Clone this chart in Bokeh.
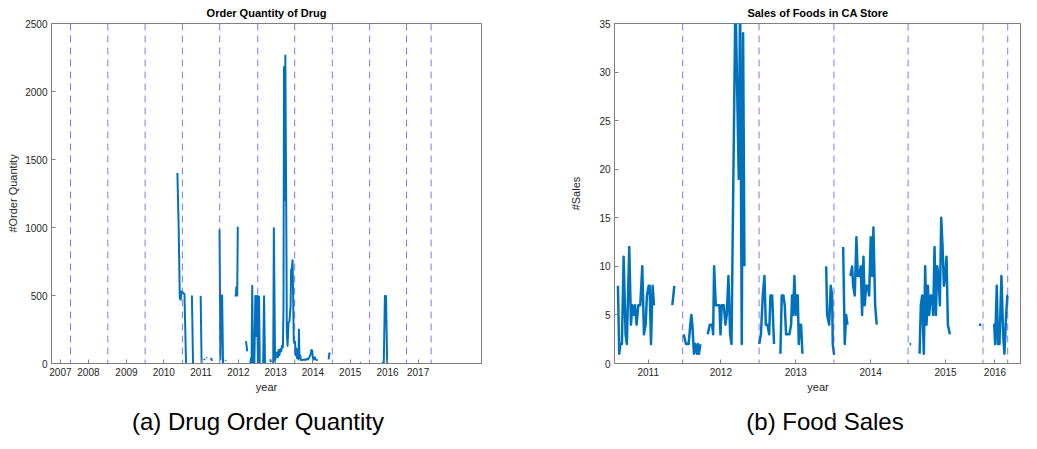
from bokeh.plotting import figure
from bokeh.models import Range1d, FixedTicker, Span, Div, Spacer
from bokeh.layouts import row, column
from bokeh.embed import file_html
from bokeh.resources import INLINE

NaN = float("nan")

# ---------------- Drug order quantity (left) ----------------
drug_year = [
    2010.366, 2010.40, 2010.43, 2010.455, 2010.47, 2010.52, 2010.555, 2010.598, NaN,
    2010.755, 2010.785, NaN,
    2010.965, 2010.99, 2011.015, NaN,
    2011.08, 2011.10, NaN,
    2011.14, 2011.16, NaN,
    2011.26, 2011.30, NaN,
    2011.495, 2011.52, 2011.545, 2011.565, 2011.59, NaN,
    2011.655, 2011.665, NaN,
    2011.90, 2011.935, 2011.945, 2011.955, 2011.97, 2011.985, NaN,
    2012.205, 2012.24, NaN,
    2012.32, 2012.34, 2012.355, 2012.372, 2012.395, 2012.405, 2012.415, 2012.43,
    2012.455, 2012.47, 2012.485, 2012.505, 2012.525, 2012.54, 2012.555, 2012.575, NaN,
    2012.665, 2012.69, 2012.715, NaN,
    2012.85, 2012.88, NaN,
    2012.935, 2012.952, 2012.985, 2013.01, 2013.036, 2013.06, 2013.08, 2013.10, 2013.125,
    2013.15, 2013.17, 2013.195, 2013.21, 2013.225, 2013.24, 2013.26, 2013.285, 2013.30,
    2013.32, 2013.345, 2013.37, 2013.40, 2013.415, 2013.435, 2013.455, 2013.47, 2013.485,
    2013.50, 2013.52, 2013.535, 2013.555, 2013.575, 2013.595, 2013.61, 2013.625, 2013.64,
    2013.66, 2013.68, 2013.72, 2013.76, 2013.80, 2013.84, 2013.87, 2013.90, 2013.93,
    2013.96, 2013.98, 2014.00, 2014.02, 2014.05, 2014.08, NaN,
    2014.10, 2014.115, NaN,
    2014.42, 2014.44, 2014.455, NaN,
    2015.26, 2015.275, NaN,
    2015.85, 2015.90, 2015.93, 2015.96, 2015.99, 2016.02,
]
drug_qty = [
    1400, 1000, 480, 470, 530, 520, 510, 0, NaN,
    500, 0, NaN,
    490, 490, 0, NaN,
    25, 35, NaN,
    40, 45, NaN,
    40, 20, NaN,
    985, 30, 500, 500, 0, NaN,
    25, 20, NaN,
    500, 500, 560, 500, 500, 1005, NaN,
    165, 90, NaN,
    0, 40, 10, 572, 0, 60, 150, 0,
    497, 200, 497, 495, 0, 495, 490, 0, NaN,
    0, 495, 0, NaN,
    30, 10, NaN,
    0, 995, 20, 60, 80, 45, 100, 60, 105,
    90, 130, 120, 400, 2180, 1200, 2265, 1100, 230,
    130, 300, 310, 420, 690, 700, 760, 480, 180,
    150, 160, 60, 110, 40, 100, 30, 250, 40,
    60, 25, 25, 30, 25, 35, 30, 45, 60,
    100, 95, 40, 30, 45, 25, NaN,
    30, 20, NaN,
    30, 75, 65, NaN,
    8, 5, NaN,
    5, 5, 497, 497, 5, 0,
]
drug_dividers = [2007.5, 2008.5, 2009.5, 2010.5, 2011.5, 2012.52, 2013.51,
                 2014.52, 2015.52, 2016.51, 2017.17]
drug_tick_pos = [2007.23, 2007.98, 2009.0, 2010.0, 2011.0, 2012.0, 2013.0,
                 2014.0, 2015.0, 2016.0, 2016.82]
drug_tick_labels = ["2007", "2008", "2009", "2010", "2011", "2012", "2013",
                    "2014", "2015", "2016", "2017"]
drug_yticks = [0, 500, 1000, 1500, 2000, 2500]

# ---------------- Food sales (right) ----------------
food_year = [
    2010.626, 2010.643, 2010.657, 2010.679, 2010.702, 2010.728, 2010.745, 2010.777,
    2010.800, 2010.817, 2010.835, 2010.853, 2010.875, 2010.898, 2010.924, 2010.951,
    2010.973, 2010.996, 2011.013, 2011.036, 2011.049, 2011.067, 2011.089, 2011.107, NaN,
    2011.352, 2011.379, NaN,
    2011.503, 2011.535, 2011.570, 2011.592, 2011.606, 2011.619, 2011.641, 2011.659,
    2011.682, 2011.695, 2011.708, 2011.726, NaN,
    2011.825, 2011.852, 2011.884, 2011.897, 2011.910, 2011.932, 2011.959, 2011.981,
    2011.995, 2012.012, 2012.039, 2012.061, 2012.079, 2012.101, 2012.124, 2012.142,
    2012.195, 2012.239, 2012.257, 2012.279, 2012.297, 2012.315, NaN,
    2012.512, 2012.535, 2012.560, 2012.582, 2012.600, 2012.622, 2012.645, 2012.662,
    2012.685, 2012.710, NaN,
    2012.795, 2012.813, 2012.835, 2012.853, 2012.871, 2012.898, 2012.915, 2012.938,
    2012.951, 2012.964, 2012.982, 2013.000, 2013.013, 2013.027, 2013.040, 2013.053,
    2013.071, 2013.089, NaN,
    2013.406, 2013.419, 2013.446, 2013.467, 2013.486, 2013.494, 2013.510, 2013.526, NaN,
    2013.633, 2013.654, 2013.673, 2013.690, NaN,
    2013.730, 2013.753, 2013.766, 2013.788, 2013.810, 2013.828, 2013.846, 2013.868,
    2013.886, 2013.904, 2013.921, 2013.940, 2013.962, 2013.980, 2014.001, 2014.020,
    2014.037, 2014.060, 2014.081, NaN,
    2014.519, 2014.541, NaN,
    2014.653, 2014.670, 2014.688, 2014.710, 2014.728, 2014.746, 2014.764, 2014.782,
    2014.800, 2014.817, 2014.835, 2014.853, 2014.871, 2014.889, 2014.906, 2014.924,
    2014.942, 2014.960, 2014.978, 2014.996, 2015.013, 2015.031, 2015.058, NaN,
    2015.445, 2015.477, NaN,
    2015.638, 2015.650, 2015.662, 2015.684, 2015.700, 2015.720, 2015.746, 2015.769,
    2015.786, 2015.809, 2015.826, 2015.832,
]
food_sales = [
    8, 1, 2, 2, 11, 3, 2, 12,
    4, 6, 5, 6, 4, 6, 6, 10,
    3, 4, 7, 8, 8, 2, 8, 6, NaN,
    6, 8, NaN,
    3, 2, 2, 4, 5, 4, 1, 2,
    1, 2, 1, 2, NaN,
    3, 4, 4, 3, 10, 6, 6, 6,
    3, 6, 6, 4, 5, 9, 3, 2,
    38, 19, 38, 2, 34, 10, NaN,
    2, 3, 7, 9, 4, 4, 3, 7,
    7, 2, NaN,
    1, 7, 7, 6, 3, 3, 3, 4,
    7, 5, 9, 5, 7, 7, 2, 4,
    4, 1, NaN,
    10, 5, 4, 8, 7, 2, 1, 1, NaN,
    12, 2, 5, 4, NaN,
    9, 10, 8, 7, 13, 9, 9, 10,
    5, 11, 6, 8, 8, 7, 13, 9,
    14, 6, 4, NaN,
    2, 2, NaN,
    1, 6, 7, 1, 10, 4, 8, 5,
    7, 7, 5, 12, 5, 10, 9, 6,
    15, 12, 8, 9, 11, 4, 3, NaN,
    4, 4, NaN,
    4, 4, 2, 8, 2, 2, 9, 3,
    1, 5, 7, 7,
]
food_dividers = [2011.49, 2012.51, 2013.51, 2014.50, 2015.50, 2015.83]
food_tick_pos = [2011.03, 2012.0, 2013.0, 2014.0, 2015.0, 2015.66]
food_tick_labels = ["2011", "2012", "2013", "2014", "2015", "2016"]
food_yticks = [0, 5, 10, 15, 20, 25, 30, 35]

captions = ["(a) Drug Order Quantity", "(b) Food Sales"]

FONT = "Liberation Sans"
LINE_BLUE = "#0072BD"
AXIS_GRAY = "#808080"
TEXT_DARK = "#262626"
TOTAL_W = 1021
HF = 395          # figure height
HC = 38           # caption row height


def style_axis(ax, ticks, labels=None):
    ax.ticker = FixedTicker(ticks=ticks)
    if labels is not None:
        ax.major_label_overrides = {t: l for t, l in zip(ticks, labels)}
    ax.axis_line_color = AXIS_GRAY
    ax.major_tick_line_color = AXIS_GRAY
    ax.major_tick_in = 4
    ax.major_tick_out = 0
    ax.minor_tick_line_color = None
    ax.major_label_text_font = FONT
    ax.major_label_text_color = TEXT_DARK
    ax.major_label_text_font_size = "10px"
    ax.major_label_standoff = 4
    ax.axis_label_text_font = FONT
    ax.axis_label_text_font_size = "11px"
    ax.axis_label_text_font_style = "normal"
    ax.axis_label_text_color = TEXT_DARK


def make_fig(width, xr, yr, title, title_offset, ylabel, xs, ys, dividers,
             tick_pos, tick_labels, yticks, bl, br, ylab_standoff, lw):
    p = figure(width=width, height=HF, x_range=Range1d(*xr), y_range=Range1d(*yr),
               output_backend="svg", toolbar_location=None,
               min_border_left=bl, min_border_right=br,
               min_border_top=15, min_border_bottom=31)
    p.background_fill_color = "white"
    p.border_fill_color = "white"
    p.outline_line_color = AXIS_GRAY
    p.xgrid.visible = False
    p.ygrid.visible = False

    p.title.text = title
    p.title.align = "center"
    p.title.offset = title_offset
    p.title.text_font = FONT
    p.title.text_font_size = "11px"
    p.title.text_font_style = "bold"
    p.title.text_color = "black"
    p.title.standoff = 9

    style_axis(p.xaxis[0], tick_pos, tick_labels)
    p.xaxis[0].axis_label = "year"
    p.xaxis[0].axis_label_standoff = 2
    style_axis(p.yaxis[0], yticks)
    p.yaxis[0].axis_label = ylabel
    p.yaxis[0].axis_label_standoff = ylab_standoff

    for d in dividers:
        p.add_layout(Span(location=d, dimension="height", line_color="#4d4dff",
                          line_alpha=0.75, line_width=1, line_dash="7 5"))

    p.line(xs, ys, line_color=LINE_BLUE, line_width=lw, line_join="round")
    return p


def caption_div(text, width):
    return Div(text=text, width=width, height=HC, margin=0,
               styles={"text-align": "center", "font-size": "24px",
                       "font-family": FONT, "color": "black",
                       "line-height": "22px", "padding-top": "16px",
                       "box-sizing": "border-box"})


W1 = 560
W2 = TOTAL_W - W1
p1 = make_fig(W1, (2006.99, 2018.52), (0, 2500), "Order Quantity of Drug", -2,
              "#Order Quantity", drug_year, drug_qty,
              drug_dividers, drug_tick_pos, drug_tick_labels, drug_yticks,
              51, W1 - 481, 3, 2)
p2 = make_fig(W2, (2010.58, 2016.014), (0, 35), "Sales of Foods in CA Store", 6,
              "#Sales", food_year, food_sales,
              food_dividers, food_tick_pos, food_tick_labels, food_yticks,
              614 - W1, 0, 14, 2.5)

# caption row: centred under each plot
C1W = 516
GAP = 113
c1 = caption_div(captions[0], C1W)
gap = Spacer(width=GAP, height=HC, margin=0)
c2 = caption_div(captions[1], TOTAL_W - C1W - GAP)

layout = column(row(p1, p2), row(c1, gap, c2))
open("out.html", "w").write(file_html(layout, INLINE))
